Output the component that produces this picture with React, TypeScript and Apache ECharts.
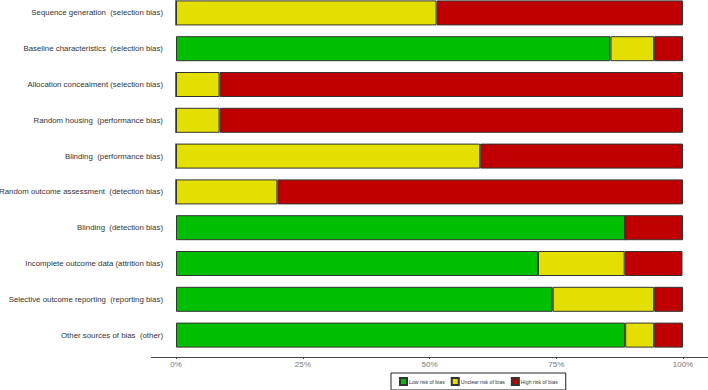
import React, { useEffect, useRef } from "react";
import * as echarts from "echarts";

const categories = [
  "Sequence generation  (selection bias)",
  "Baseline characteristics  (selection bias)",
  "Allocation concealment (selection bias)",
  "Random housing  (performance bias)",
  "Blinding  (performance bias)",
  "Random outcome assessment  (detection bias)",
  "Blinding  (detection bias)",
  "Incomplete outcome data (attrition bias)",
  "Selective outcome reporting  (reporting bias)",
  "Other sources of bias  (other)",
];
// percentages (of 35 studies)
const lowRisk = [0, 85.7, 0, 0, 0, 0, 88.6, 71.4, 74.3, 88.6];
const unclearRisk = [51.4, 8.6, 8.6, 8.6, 60.0, 20.0, 0, 17.1, 20.0, 5.7];
const highRisk = [48.6, 5.7, 91.4, 91.4, 40.0, 80.0, 11.4, 11.4, 5.7, 5.7];
const tickLabels = ["0%", "25%", "50%", "75%", "100%"];

const seriesNames = ["Low risk of bias", "Unclear risk of bias", "High risk of bias"];
const colors = ["#00bf00", "#e3df00", "#c00000"];

export default function App() {
  const ref = useRef<HTMLDivElement>(null);
  useEffect(() => {
    const chart = echarts.init(ref.current!, undefined, { renderer: "svg" });
    const data = [lowRisk, unclearRisk, highRisk];
    chart.setOption({
      animation: false,
      textStyle: { fontFamily: "Liberation Sans, Arial, sans-serif" },
      grid: { left: 176, right: 25, top: -5, bottom: 37, outerBoundsMode: "none", containLabel: false },
      legend: {
        left: 391,
        top: 373,
        itemWidth: 7,
        itemHeight: 7,
        itemGap: 6,
        padding: [4, 8, 4, 8],
        borderColor: "#222",
        borderWidth: 1,
        icon: "rect",
        textStyle: { fontSize: 5.2, color: "#333", padding: [0, 0, 0, -3] },
        data: seriesNames,
      },
      xAxis: {
        type: "value",
        min: 0,
        max: 100,
        interval: 25,
        offset: 4,
        axisLine: { show: false },
        axisTick: { show: true, length: 2, lineStyle: { color: "#444" } },
        splitLine: { show: false },
        axisLabel: {
          fontSize: 8,
          color: "#777",
          margin: 3,
          formatter: (v: number) => tickLabels[Math.round(v / 25)],
        },
      },
      yAxis: {
        type: "category",
        inverse: true,
        data: categories,
        axisLine: { show: false },
        axisTick: { show: false },
        axisLabel: { fontSize: 7.85, color: "#333", margin: 13 },
      },
      graphic: [
        {
          type: "line",
          shape: { x1: 151, y1: 357.5, x2: 708, y2: 357.5 },
          style: { stroke: "#444", lineWidth: 1 },
        },
      ],
      series: seriesNames.map((name, i) => ({
        name,
        type: "bar",
        stack: "total",
        barWidth: 25,
        data: data[i],
        itemStyle: { color: colors[i], borderColor: "#333", borderWidth: 1 },
      })),
    });
    return () => chart.dispose();
  }, []);
  return <div ref={ref} style={{ width: 708, height: 390, position: "absolute", left: 0, top: 0 }} />;
}
